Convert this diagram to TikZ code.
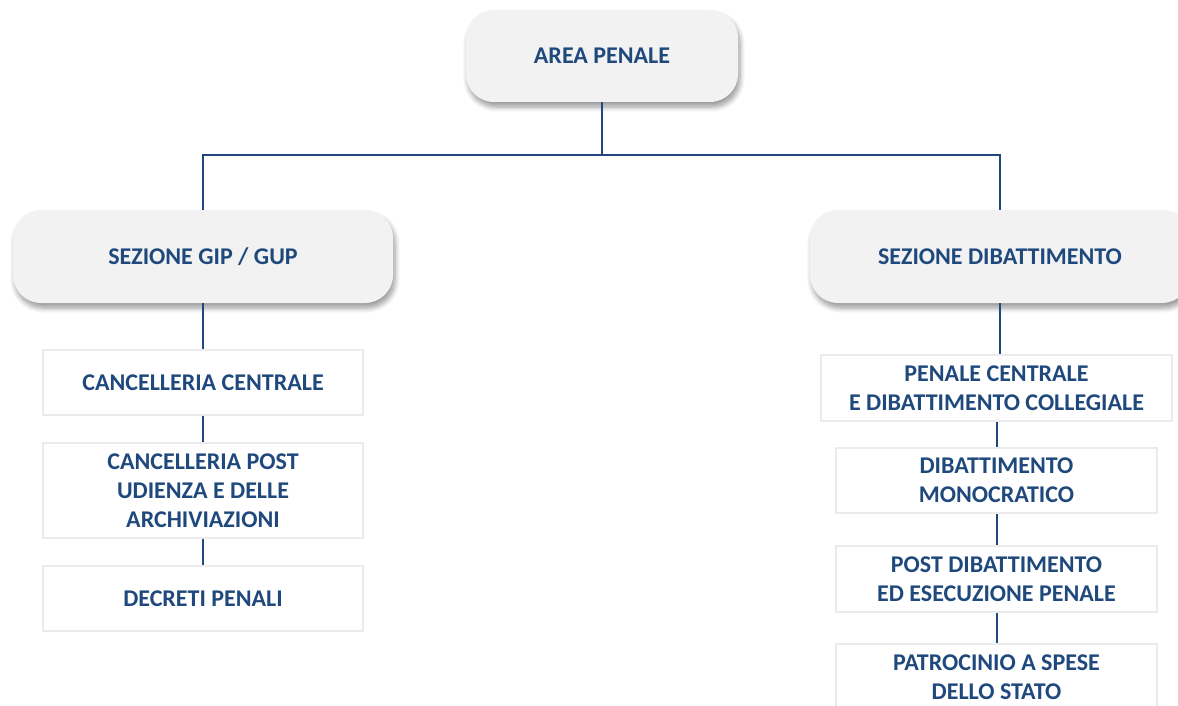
\documentclass[tikz,border=0pt]{standalone}
\usepackage{fontspec}
\setmainfont{Carlito}
\usetikzlibrary{shadows.blur}
\definecolor{txtblue}{HTML}{1F497D}
\definecolor{boxgray}{HTML}{F2F2F2}
\definecolor{bordergray}{HTML}{EBEBEB}
\tikzset{
  lbl/.style={text=txtblue, font=\fontsize{24}{29}\selectfont\bfseries, align=center, inner sep=0pt},
  headbox/.style={lbl, fill=boxgray, rounded corners=28pt, draw=none,
    blur shadow={shadow xshift=2pt, shadow yshift=-5pt, shadow blur steps=8, shadow blur radius=5pt, shadow opacity=40}},
  subbox/.style={lbl, fill=white, draw=bordergray, line width=1.5pt},
  link/.style={draw=txtblue, line width=2pt}
}
\begin{document}
\begin{tikzpicture}[x=1pt,y=-1pt]
\useasboundingbox (0,0) rectangle (1178,706);
% head nodes
\node[headbox, minimum width=272pt, minimum height=92pt] (area) at (602,56) {AREA PENALE};
\node[headbox, minimum width=380pt, minimum height=93pt] (gip) at (203,256.5) {SEZIONE GIP / GUP};
\node[headbox, minimum width=380pt, minimum height=93pt] (dib) at (1000,256.5) {SEZIONE DIBATTIMENTO};
\coordinate (bus) at (602,155);
% left column
\node[subbox, minimum width=320pt, minimum height=65pt] (cc) at (203,382.5) {CANCELLERIA CENTRALE};
\node[subbox, minimum width=320pt, minimum height=95pt] (cp) at (203,490.5) {CANCELLERIA POST\\UDIENZA E DELLE\\ARCHIVIAZIONI};
\node[subbox, minimum width=320pt, minimum height=65pt] (dp) at (203,598.5) {DECRETI PENALI};
% right column
\node[subbox, minimum width=351pt, minimum height=66pt] (pc) at (996.5,388) {PENALE CENTRALE\\E DIBATTIMENTO COLLEGIALE};
\node[subbox, minimum width=321pt, minimum height=65pt] (dm) at (996.5,480.5) {DIBATTIMENTO\\MONOCRATICO};
\node[subbox, minimum width=321pt, minimum height=66pt] (pd) at (996.5,579) {POST DIBATTIMENTO\\ED ESECUZIONE PENALE};
\node[subbox, minimum width=321pt, minimum height=66pt] (pa) at (996.5,677) {PATROCINIO A SPESE\\DELLO STATO};
% connectors
\begin{scope}[on background layer/.style={}]
\draw[link] (area.south) -- (bus);
\draw[link] (bus) -| (gip.north);
\draw[link] (bus) -| (dib.north);
\draw[link] (gip.south) -- (cc.north);
\draw[link] (cc.south) -- (cp.north);
\draw[link] (cp.south) -- (dp.north);
\draw[link] (dib.south) -- (pc.north -| dib.south);
\draw[link] (pc.south) -- (dm.north);
\draw[link] (dm.south) -- (pd.north);
\draw[link] (pd.south) -- (pa.north);
\end{scope}
\end{tikzpicture}
\end{document}
